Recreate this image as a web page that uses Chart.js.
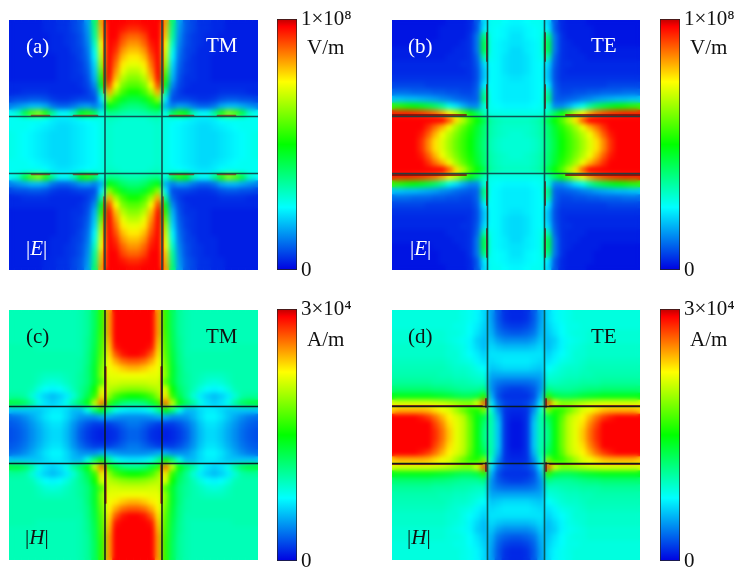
<!DOCTYPE html>
<html>
<head>
<meta charset="utf-8">
<script src="https://cdn.jsdelivr.net/npm/chart.js@4"></script>
<style>
  body { margin: 0; background: #fff; }
  #page { position: relative; width: 749px; height: 576px; overflow: hidden; font-family: "Liberation Serif", serif; font-size: 21px; }
  canvas { position: absolute; }
  .txt { position: absolute; line-height: 24px; white-space: nowrap; }
  .w { color: #fff; }
  .k { color: #111; }
</style>
</head>
<body>
<div id="page"></div>
<script>
// normalised field (0-100), top-left quadrant of each panel, row by row from the top edge to the centre
const fieldA = [
  [3,3,3,3,3,4,4,5,5,7,9,16,40,86,100,100,100,99],
  [3,3,3,3,3,4,4,5,5,7,9,15,38,84,100,100,98,96],
  [3,3,3,3,3,3,4,4,5,6,8,14,36,82,100,100,94,91],
  [3,3,3,3,3,3,4,4,5,6,8,13,32,78,100,98,91,87],
  [3,3,3,3,3,3,4,4,4,6,7,12,28,75,100,96,87,83],
  [3,3,3,3,3,3,3,4,4,5,7,11,25,72,100,93,83,79],
  [3,3,3,3,3,3,3,4,4,5,6,10,22,68,100,90,79,75],
  [3,3,3,3,3,3,3,4,4,5,6,9,20,62,100,87,75,70],
  [3,3,3,3,3,3,3,4,4,5,5,8,18,56,99,83,70,65],
  [4,4,4,4,4,4,4,4,4,4,5,7,14,48,94,77,64,60],
  [4,4,5,5,5,5,4,4,4,4,4,6,10,36,85,68,58,53],
  [7,8,8,9,9,8,6,5,5,6,7,7,8,24,66,56,48,45],
  [13,15,17,19,19,17,12,10,10,12,15,16,13,18,50,46,41,39],
  [27,31,45,60,65,55,37,27,27,34,50,55,44,28,38,37,35,34],
  [27,27,27,27,27,26,24,23,23,24,25,26,27,28,32,31,30,30],
  [27,27,27,26,25,24,23,22,22,23,24,25,26,28,31,30,30,30],
  [28,27,26,25,24,23,22,22,22,23,24,25,26,28,31,30,30,30],
  [28,27,26,25,24,23,22,22,22,23,24,25,26,28,31,30,30,30]
];
const fieldB = [
  [2,2,2,2,2,2,2,2,3,3,3,4,9,22,27,27,26,25],
  [2,2,2,2,2,2,2,3,3,3,3,4,9,24,27,26,25,24],
  [2,2,2,2,2,2,2,3,3,3,3,5,12,40,27,26,25,23],
  [2,2,2,2,2,2,3,3,3,3,4,5,12,45,27,25,24,23],
  [3,3,3,3,3,3,3,3,3,4,4,5,12,45,27,25,24,22],
  [3,3,3,3,3,3,3,3,4,4,4,5,10,35,27,25,23,22],
  [4,4,4,4,4,4,4,4,4,4,5,5,9,22,26,25,23,22],
  [4,4,4,4,4,4,4,4,4,4,4,5,8,20,26,25,23,22],
  [5,5,5,5,5,5,5,5,5,5,5,5,8,20,26,25,24,23],
  [7,7,7,7,7,6,6,6,6,6,6,6,9,24,26,25,24,24],
  [11,11,11,10,10,10,9,9,8,8,7,7,10,36,26,25,24,24],
  [20,20,19,19,18,17,16,14,13,11,10,9,10,40,26,25,24,24],
  [56,55,53,51,49,46,42,36,28,23,18,14,14,30,27,26,25,25],
  [97,97,97,96,95,93,90,85,78,70,60,50,42,33,28,28,28,28],
  [100,100,100,100,100,100,100,100,92,80,70,60,52,44,35,33,32,32],
  [100,100,100,100,100,96,90,84,76,68,61,55,47,40,34,32,31,31],
  [100,100,100,100,98,92,84,76,70,64,58,53,46,40,34,32,31,30],
  [100,100,100,100,96,88,80,74,68,62,57,52,45,39,33,31,30,30]
];
const fieldC = [
  [33,33,33,33,33,33,33,33,33,33,34,36,42,56,86,100,100,100],
  [33,33,33,33,33,33,33,33,33,33,34,36,42,56,86,100,100,100],
  [33,33,33,33,33,33,33,33,33,33,34,36,42,56,86,100,100,100],
  [33,33,33,33,33,33,33,33,33,33,34,36,43,57,86,100,100,100],
  [33,33,33,33,33,33,33,33,33,33,34,37,43,58,84,100,100,100],
  [34,34,34,34,33,33,33,33,33,33,34,37,44,59,82,98,100,100],
  [34,34,34,34,34,34,34,34,34,34,34,38,45,60,80,92,98,100],
  [34,34,34,34,34,34,34,34,34,34,35,38,46,62,78,85,90,92],
  [34,34,34,34,34,34,34,34,34,34,35,39,47,64,76,79,82,84],
  [34,34,34,34,33,32,32,32,33,34,36,39,47,65,75,75,76,76],
  [34,34,34,34,32,30,29,30,32,34,36,39,47,60,73,73,72,72],
  [34,34,34,33,29,26,25,26,29,33,37,41,52,74,70,68,66,65],
  [36,36,35,30,24,21,19,21,24,30,37,44,56,80,66,58,54,52],
  [45,45,42,36,28,23,21,23,28,36,42,50,72,90,56,46,40,38],
  [20,20,20,20,20,22,24,24,22,19,19,28,40,50,36,28,24,23],
  [11,12,14,17,20,23,25,25,22,18,15,14,14,17,17,15,14,14],
  [9,10,12,15,18,21,23,23,20,15,11,8,6,6,6,8,10,12],
  [8,9,11,14,17,20,22,22,19,14,9,6,4,3,4,5,8,10]
];
const fieldD = [
  [29,29,29,29,29,29,29,29,29,29,28,27,25,22,16,9,5,4],
  [29,29,29,29,29,29,29,29,29,29,28,27,25,22,16,9,5,4],
  [29,29,29,29,29,29,29,29,29,28,28,26,24,21,17,10,7,6],
  [30,30,30,30,30,30,30,30,29,29,28,26,23,20,18,12,10,9],
  [30,30,30,30,30,30,30,30,29,28,27,25,21,19,20,16,14,14],
  [31,31,31,31,31,31,31,31,30,29,28,25,22,19,22,20,19,19],
  [31,31,31,31,31,31,31,31,30,30,28,26,24,21,23,23,23,23],
  [32,32,32,32,32,32,32,32,31,30,29,28,25,23,22,23,24,24],
  [33,33,33,33,33,33,33,33,32,31,31,30,28,26,20,21,22,22],
  [34,34,34,34,34,34,34,33,33,32,32,31,30,29,17,17,17,17],
  [36,36,36,36,36,36,35,35,35,34,34,33,32,32,15,12,11,11],
  [40,40,40,40,40,40,39,39,38,37,36,36,36,38,15,9,7,6],
  [49,49,49,49,49,49,48,47,46,44,43,43,45,55,18,8,5,5],
  [74,74,74,74,74,74,73,72,70,68,66,66,74,92,24,11,7,6],
  [82,84,84,84,84,83,80,76,74,68,62,56,54,64,30,14,5,4],
  [100,100,100,100,98,95,90,84,78,74,70,60,50,44,34,18,5,3],
  [100,100,100,100,100,100,94,88,80,75,71,62,50,40,34,20,5,2],
  [100,100,100,100,100,100,96,90,82,75,71,62,50,38,34,20,5,2]
];

// hot strips along the slits: [x1, y1, x2, y2] in the top-left quadrant
const hotA = [[-29.5,-125,-29.5,-52], [-102,-29.5,-84,-29.5], [-60,-29.5,-36,-29.5]];
const hotB = [[-29,-112,-29,-84], [-29,-60,-29,-37], [-124,-30,-50,-30]];
const hotC = [[-28,-68,-28,-30]];
const hotD = [[-124,-29,-34,-29], [-30,-36,-30,-28]];

const slitOffset = 28.5;
const cellSize = 7;

const colorStops = [0, 0.25, 0.5, 0.75, 0.97, 1];
const colorValues = [[0,0,225],[0,255,255],[0,255,0],[255,255,0],[255,0,0],[190,0,0]];

const eTicks = [0, 1e8];
const eTickLabels = ['0', '1×10⁸'];
const hTicks = [0, 3e4];
const hTickLabels = ['0', '3×10⁴'];

const page = document.getElementById('page');

// field values stop at plain red, the darker tip only shows on the colour bar
function heatColor(v) {
  const t = Math.min(0.97, Math.max(0, v / 100 * 0.97));
  let i = 0;
  while (i < colorStops.length - 2 && t > colorStops[i + 1]) i++;
  const f = (t - colorStops[i]) / (colorStops[i + 1] - colorStops[i]);
  const a = colorValues[i], b = colorValues[i + 1];
  const rgb = a.map((c, k) => Math.round(c + (b[k] - c) * f));
  return 'rgb(' + rgb.join(',') + ')';
}

function addCanvas(left, top, w, h) {
  const c = document.createElement('canvas');
  c.width = w; c.height = h;
  c.style.left = left + 'px';
  c.style.top = top + 'px';
  page.appendChild(c);
  return c;
}

// softens the cells once the field dataset has been painted
const softenField = {
  id: 'softenField',
  afterDatasetDraw(chart, args) {
    if (chart.data.datasets[args.index].label !== 'field') return;
    const ctx = chart.ctx;
    ctx.save();
    ctx.filter = 'blur(2.5px)';
    ctx.drawImage(chart.canvas, 0, 0);
    ctx.restore();
  }
};

function mirrored(x1, y1, x2, y2) {
  const out = [];
  [1, -1].forEach(sx => [1, -1].forEach(sy => {
    out.push([{x: x1 * sx, y: y1 * sy}, {x: x2 * sx, y: y2 * sy}]);
  }));
  return out;
}

function drawPanel(left, top, w, h, field, hot, hotColor, hotWidth, vColor, hColor) {
  const points = [], colors = [];
  field.forEach((row, r) => row.forEach((v, c) => {
    const x = (c - 17.5) * cellSize, y = (r - 17.5) * cellSize;
    [[x, y], [-x, y], [x, -y], [-x, -y]].forEach(p => {
      points.push({x: p[0], y: p[1]});
      colors.push(heatColor(v));
    });
  }));

  const datasets = [{
    label: 'field', data: points, order: 10,
    pointStyle: 'rect', pointRadius: 5.4, pointBorderWidth: 0,
    pointBackgroundColor: colors
  }];

  hot.forEach(s => mirrored(s[0], s[1], s[2], s[3]).forEach(seg => {
    datasets.push({label: 'hot', data: seg, showLine: true, pointRadius: 0, order: 5,
      borderColor: hotColor, borderWidth: hotWidth, borderCapStyle: 'round'});
  }));

  [-slitOffset, slitOffset].forEach(p => {
    datasets.push({label: 'slit', data: [{x: p, y: -h / 2}, {x: p, y: h / 2}], showLine: true,
      pointRadius: 0, order: 1, borderColor: vColor, borderWidth: 1.6});
    datasets.push({label: 'slit', data: [{x: -w / 2, y: p}, {x: w / 2, y: p}], showLine: true,
      pointRadius: 0, order: 1, borderColor: hColor, borderWidth: 1.6});
  });

  new Chart(addCanvas(left, top, w, h), {
    type: 'scatter',
    data: {datasets},
    plugins: [softenField],
    options: {
      responsive: false, animation: false,
      layout: {padding: 0, autoPadding: false},
      plugins: {legend: {display: false}, tooltip: {enabled: false}},
      scales: {
        x: {type: 'linear', min: -w / 2, max: w / 2, display: false},
        y: {type: 'linear', min: -h / 2, max: h / 2, reverse: true, display: false}
      }
    }
  });
}

function drawColorbar(left, top, barH, ticks, tickLabels) {
  const maxVal = ticks[ticks.length - 1];
  new Chart(addCanvas(left, top - 22, 92, barH + 46), {
    type: 'bar',
    data: {
      labels: ['scale'],
      datasets: [{
        data: [[ticks[0], maxVal]],
        barPercentage: 1, categoryPercentage: 1,
        borderColor: '#222', borderWidth: 1, borderSkipped: false,
        backgroundColor(ctx) {
          const area = ctx.chart.chartArea;
          if (!area) return '#888';
          const g = ctx.chart.ctx.createLinearGradient(0, area.bottom, 0, area.top);
          colorStops.forEach((s, i) => g.addColorStop(s, 'rgb(' + colorValues[i].join(',') + ')'));
          return g;
        }
      }]
    },
    options: {
      responsive: false, animation: false,
      layout: {padding: {top: 22, bottom: 24, left: 0, right: 0}},
      plugins: {legend: {display: false}, tooltip: {enabled: false}},
      scales: {
        x: {display: false},
        y: {
          position: 'right', min: ticks[0], max: maxVal,
          grid: {display: false, drawTicks: false, tickLength: 0}, border: {display: false},
          afterFit(s) { s.width = 72; },
          afterBuildTicks(s) { s.ticks = ticks.map(v => ({value: v})); },
          ticks: {
            padding: 4, color: '#111',
            font: {family: '"Liberation Serif", serif', size: 21},
            callback: v => tickLabels[ticks.indexOf(v)]
          }
        }
      }
    }
  });
}

function addText(html, left, cy, cls) {
  const d = document.createElement('div');
  d.className = 'txt ' + cls;
  d.innerHTML = html;
  d.style.left = left + 'px';
  d.style.top = (cy - 12) + 'px';
  page.appendChild(d);
}

const slitTeal = 'rgba(15,65,70,0.9)';
const slitDark = 'rgba(10,25,30,0.95)';

drawPanel(9, 20, 249, 250, fieldA, hotA, 'rgba(170,25,10,0.7)', 1.6, slitTeal, slitTeal);
drawPanel(392, 20, 248, 250, fieldB, hotB, 'rgba(120,15,10,0.8)', 2, slitTeal, slitTeal);
drawPanel(9, 310, 249, 250, fieldC, hotC, 'rgba(190,10,10,0.85)', 2.2, slitDark, slitDark);
drawPanel(392, 310, 248, 250, fieldD, hotD, 'rgba(130,10,10,0.8)', 2, 'rgba(10,80,75,0.9)', slitDark);

drawColorbar(277, 19, 251, eTicks, eTickLabels);
drawColorbar(660, 19, 251, eTicks, eTickLabels);
drawColorbar(277, 309, 252, hTicks, hTickLabels);
drawColorbar(660, 309, 252, hTicks, hTickLabels);

addText('(a)', 26, 46, 'w');
addText('TM', 206, 45, 'w');
addText('|<i>E</i>|', 26, 248, 'w');
addText('V/m', 307, 47, 'k');
addText('(b)', 408, 46, 'w');
addText('TE', 591, 45, 'w');
addText('|<i>E</i>|', 410, 248, 'w');
addText('V/m', 690, 47, 'k');
addText('(c)', 26, 336, 'k');
addText('TM', 206, 336, 'k');
addText('|<i>H</i>|', 25, 537, 'k');
addText('A/m', 307, 339, 'k');
addText('(d)', 408, 336, 'k');
addText('TE', 591, 336, 'k');
addText('|<i>H</i>|', 407, 537, 'k');
addText('A/m', 690, 339, 'k');
</script>
</body>
</html>
